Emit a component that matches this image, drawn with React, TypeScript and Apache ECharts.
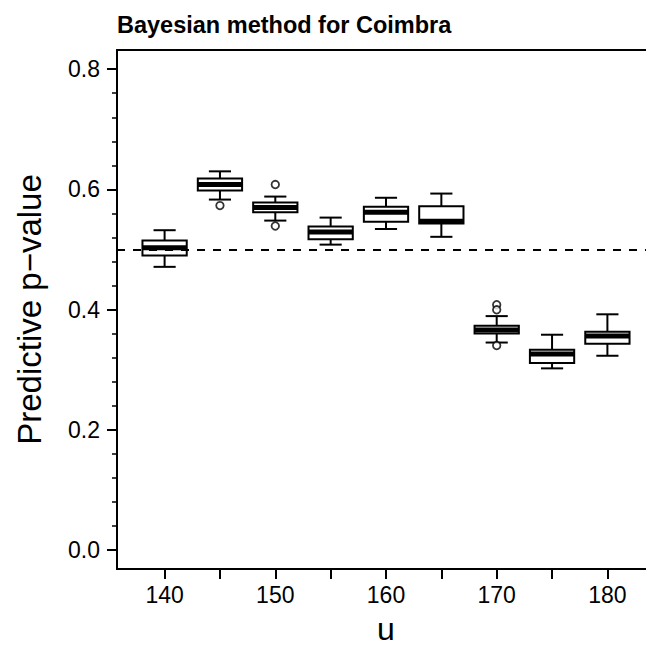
import React, { useEffect, useRef } from "react";
import * as echarts from "echarts";

// Threshold u for each box
const uValues = [140, 145, 150, 155, 160, 165, 170, 175, 180];
// Five-number summaries of the predictive p-values
const lowerWhisker = [0.471, 0.583, 0.548, 0.508, 0.534, 0.521, 0.345, 0.302, 0.323];
const q1 = [0.49, 0.598, 0.562, 0.517, 0.546, 0.543, 0.36, 0.311, 0.343];
const median = [0.503, 0.608, 0.57, 0.529, 0.562, 0.547, 0.366, 0.326, 0.356];
const q3 = [0.515, 0.618, 0.578, 0.538, 0.571, 0.572, 0.373, 0.333, 0.363];
const upperWhisker = [0.532, 0.63, 0.588, 0.553, 0.586, 0.593, 0.389, 0.358, 0.392];
// Points beyond the whiskers
const outlierU = [145, 150, 150, 170, 170, 170];
const outlierP = [0.573, 0.608, 0.539, 0.408, 0.3995, 0.34];

const xTickValues = [140, 145, 150, 155, 160, 165, 170, 175, 180];
const xLabelValues = [140, 150, 160, 170, 180];
const yTickValues = [0, 0.2, 0.4, 0.6, 0.8];
const yMinorTickValues = [
  0.04, 0.08, 0.12, 0.16, 0.24, 0.28, 0.32, 0.36, 0.44, 0.48, 0.52, 0.56, 0.64,
  0.68, 0.72, 0.76,
];
const referenceLevel = 0.5;

const FONT = "'Liberation Sans', Arial, Helvetica, sans-serif";
const BOX_WIDTH = 4; // in u units
const X_MIN = 135.7;
const X_MAX = 184.3;
const Y_MIN = -0.032;
const Y_MAX = 0.832;

export default function App() {
  const ref = useRef<HTMLDivElement>(null);

  useEffect(() => {
    if (!ref.current) return;
    const chart = echarts.init(ref.current, null, { renderer: "svg" });

    const boxData = uValues.map((u, i) => [
      u,
      lowerWhisker[i],
      q1[i],
      median[i],
      q3[i],
      upperWhisker[i],
    ]);

    const stroke = { stroke: "#000", lineWidth: 2, fill: "none" };

    const option: any = {
      animation: false,
      backgroundColor: "#fff",
      grid: {
        left: 117,
        top: 50,
        right: -9,
        bottom: 77,
        show: true,
        borderColor: "#000",
        borderWidth: 2,
        backgroundColor: "transparent",
        containLabel: false,
        outerBoundsMode: "none",
      },
      xAxis: {
        type: "value",
        min: X_MIN,
        max: X_MAX,
        axisLine: { show: false, onZero: false },
        splitLine: { show: false },
        axisTick: {
          show: true,
          customValues: xTickValues,
          length: 10,
          lineStyle: { color: "#000", width: 2 },
        },
        axisLabel: {
          customValues: xLabelValues,
          margin: 14,
          color: "#000",
          fontSize: 23,
          fontFamily: FONT,
        },
      },
      yAxis: [
        {
          type: "value",
          min: Y_MIN,
          max: Y_MAX,
          axisLine: { show: false, onZero: false },
          splitLine: { show: false },
          axisTick: {
            show: true,
            customValues: yTickValues,
            length: 10,
            lineStyle: { color: "#000", width: 2 },
          },
          axisLabel: {
            customValues: yTickValues,
            margin: 17,
            color: "#000",
            fontSize: 23,
            fontFamily: FONT,
            formatter: (v: number) => v.toFixed(1),
          },
        },
        {
          type: "value",
          min: Y_MIN,
          max: Y_MAX,
          position: "left",
          axisLine: { show: false, onZero: false },
          splitLine: { show: false },
          axisTick: {
            show: true,
            customValues: yMinorTickValues,
            length: 5,
            lineStyle: { color: "#000", width: 1.5 },
          },
          axisLabel: { show: false },
        },
      ],
      graphic: [
        {
          type: "text",
          left: 117,
          top: 13,
          style: {
            text: "Bayesian method for Coimbra",
            font: `bold 23.5px ${FONT}`,
            fill: "#000",
          },
        },
        {
          type: "text",
          x: 386,
          y: 629,
          style: {
            text: "u",
            font: `32px ${FONT}`,
            fill: "#000",
            align: "center",
            verticalAlign: "middle",
          },
        },
        {
          type: "text",
          x: 29,
          y: 309.5,
          rotation: Math.PI / 2,
          style: {
            text: "Predictive p\u2212value",
            font: `33px ${FONT}`,
            fill: "#000",
            align: "center",
            verticalAlign: "middle",
          },
        },
      ],
      series: [
        {
          type: "custom",
          data: boxData,
          encode: { x: 0, y: [1, 2, 3, 4, 5] },
          z: 3,
          renderItem: (_params: any, api: any) => {
            const u = api.value(0);
            const halfW = api.size([BOX_WIDTH, 0])[0] / 2;
            const capHalf = halfW / 2;
            const cx = api.coord([u, api.value(1)])[0];
            const yLw = api.coord([u, api.value(1)])[1];
            const yQ1 = api.coord([u, api.value(2)])[1];
            const yMed = api.coord([u, api.value(3)])[1];
            const yQ3 = api.coord([u, api.value(4)])[1];
            const yUw = api.coord([u, api.value(5)])[1];
            return {
              type: "group",
              children: [
                { type: "line", shape: { x1: cx, y1: yUw, x2: cx, y2: yQ3 }, style: stroke },
                { type: "line", shape: { x1: cx, y1: yQ1, x2: cx, y2: yLw }, style: stroke },
                {
                  type: "line",
                  shape: { x1: cx - capHalf, y1: yUw, x2: cx + capHalf, y2: yUw },
                  style: stroke,
                },
                {
                  type: "line",
                  shape: { x1: cx - capHalf, y1: yLw, x2: cx + capHalf, y2: yLw },
                  style: stroke,
                },
                {
                  type: "rect",
                  shape: { x: cx - halfW, y: yQ3, width: 2 * halfW, height: yQ1 - yQ3 },
                  style: { fill: "#fff", stroke: "#000", lineWidth: 2 },
                },
                {
                  type: "line",
                  shape: { x1: cx - halfW, y1: yMed, x2: cx + halfW, y2: yMed },
                  style: { stroke: "#000", lineWidth: 5 },
                },
              ],
            };
          },
        },
        {
          type: "scatter",
          data: outlierU.map((u, i) => [u, outlierP[i]]),
          symbol: "circle",
          symbolSize: 7.5,
          z: 4,
          itemStyle: { color: "#fff", borderColor: "#000", borderWidth: 1.8 },
          markLine: {
            silent: true,
            symbol: ["none", "none"],
            label: { show: false },
            lineStyle: { color: "#000", width: 2, type: [8, 8] },
            data: [{ yAxis: referenceLevel }],
          },
        },
      ],
    };

    chart.setOption(option);
    return () => chart.dispose();
  }, []);

  return (
    <div
      ref={ref}
      style={{ position: "fixed", left: 0, top: 0, width: 646, height: 646, background: "#fff" }}
    />
  );
}
